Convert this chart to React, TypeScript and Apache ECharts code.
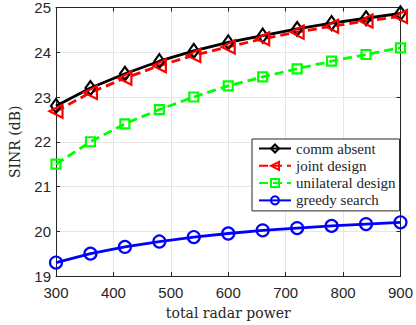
import React, { useEffect, useRef } from "react";
import * as echarts from "echarts";

const xValues = [300, 360, 420, 480, 540, 600, 660, 720, 780, 840, 900];
const commAbsent = [22.8, 23.2, 23.52, 23.8, 24.03, 24.22, 24.37, 24.52, 24.65, 24.76, 24.87];
const jointDesign = [22.68, 23.1, 23.42, 23.7, 23.93, 24.12, 24.3, 24.45, 24.58, 24.7, 24.8];
const unilateralDesign = [21.5, 22.0, 22.4, 22.72, 23.0, 23.25, 23.45, 23.63, 23.8, 23.95, 24.1];
const greedySearch = [19.3, 19.5, 19.65, 19.77, 19.87, 19.95, 20.02, 20.07, 20.12, 20.16, 20.2];
const legendNames = ["comm absent", "joint design", "unilateral design", "greedy search"];

const pair = (ys: number[]) => xValues.map((x, i) => [x, ys[i]]);

export default function App() {
  const ref = useRef<HTMLDivElement>(null);
  useEffect(() => {
    const chart = echarts.init(ref.current!, undefined, { renderer: "svg" });
    const tickFont = { fontFamily: "'Liberation Sans', Arial, sans-serif", fontSize: 15, color: "#262626" };
    const serif = "'DejaVu Serif', serif";
    const legendText = { fontFamily: "'Liberation Serif', serif", fontSize: 15, lineHeight: 17, color: "#262626" };
    const axisCommon = {
      axisLine: { show: true, onZero: false, lineStyle: { color: "#262626", width: 1 } },
      axisTick: { show: true, inside: true, length: 4, lineStyle: { color: "#262626" } },
    };
    const mk = (name: string, ys: number[], color: string, symbol: string, size: number | number[], dashed: boolean, rotate = 0) => ({
      name,
      type: "line",
      data: pair(ys),
      symbol,
      symbolSize: size,
      symbolRotate: rotate,
      showAllSymbol: true,
      lineStyle: { color, width: 2.8, type: dashed ? [9, 5] : "solid" },
      itemStyle: { color: "rgba(255,255,255,0)", borderColor: color, borderWidth: 2.2 },
      emphasis: { disabled: true },
    });
    chart.setOption({
      animation: false,
      backgroundColor: "#fff",
      textStyle: { fontFamily: "'Liberation Serif', serif" },
      grid: { left: 48, right: 15, top: 7, bottom: 47, show: false },
      xAxis: [
        {
          type: "value",
          min: 300,
          max: 900,
          interval: 100,
          name: "total radar power",
          nameLocation: "middle",
          nameGap: 30,
          nameTextStyle: { fontFamily: serif, fontSize: 14, color: "#262626" },
          ...axisCommon,
          axisLabel: { ...tickFont, margin: 9 },
          splitLine: { show: true, lineStyle: { color: "#e6e6e6", width: 1 } },
        },
        {
          type: "value", min: 300, max: 900, interval: 100, position: "top",
          ...axisCommon,
          axisLabel: { show: false }, splitLine: { show: false },
        },
      ],
      yAxis: [
        {
          type: "value",
          min: 19,
          max: 25,
          interval: 1,
          name: "SINR (dB)",
          nameLocation: "middle",
          nameGap: 34,
          nameTextStyle: { fontFamily: serif, fontSize: 14, color: "#262626" },
          ...axisCommon,
          axisLabel: { ...tickFont, margin: 5 },
          splitLine: { show: true, lineStyle: { color: "#e6e6e6", width: 1 } },
        },
        {
          type: "value", min: 19, max: 25, interval: 1, position: "right",
          ...axisCommon,
          axisLabel: { show: false }, splitLine: { show: false },
        },
      ],
      legend: {
        show: true,
        orient: "vertical",
        left: 252,
        top: 139,
        padding: [1, 4, 2, 6],
        itemGap: 0.3,
        itemWidth: 32,
        itemHeight: 10,
        backgroundColor: "#fff",
        borderColor: "#262626",
        borderWidth: 1,
        borderRadius: 0,
        textStyle: legendText,
        data: legendNames.map((name) => ({ name, textStyle: legendText })),
      },
      series: [
        mk(legendNames[0], commAbsent, "#000000", "diamond", [10, 14], false),
        mk(legendNames[1], jointDesign, "#ff0000", "triangle", 13, true, 90),
        mk(legendNames[2], unilateralDesign, "#00ff00", "rect", 9, true),
        mk(legendNames[3], greedySearch, "#0000ff", "circle", 12, false),
      ],
    });
    return () => chart.dispose();
  }, []);
  return <div ref={ref} style={{ position: "fixed", left: 0, top: 0, width: 416, height: 325 }} />;
}
